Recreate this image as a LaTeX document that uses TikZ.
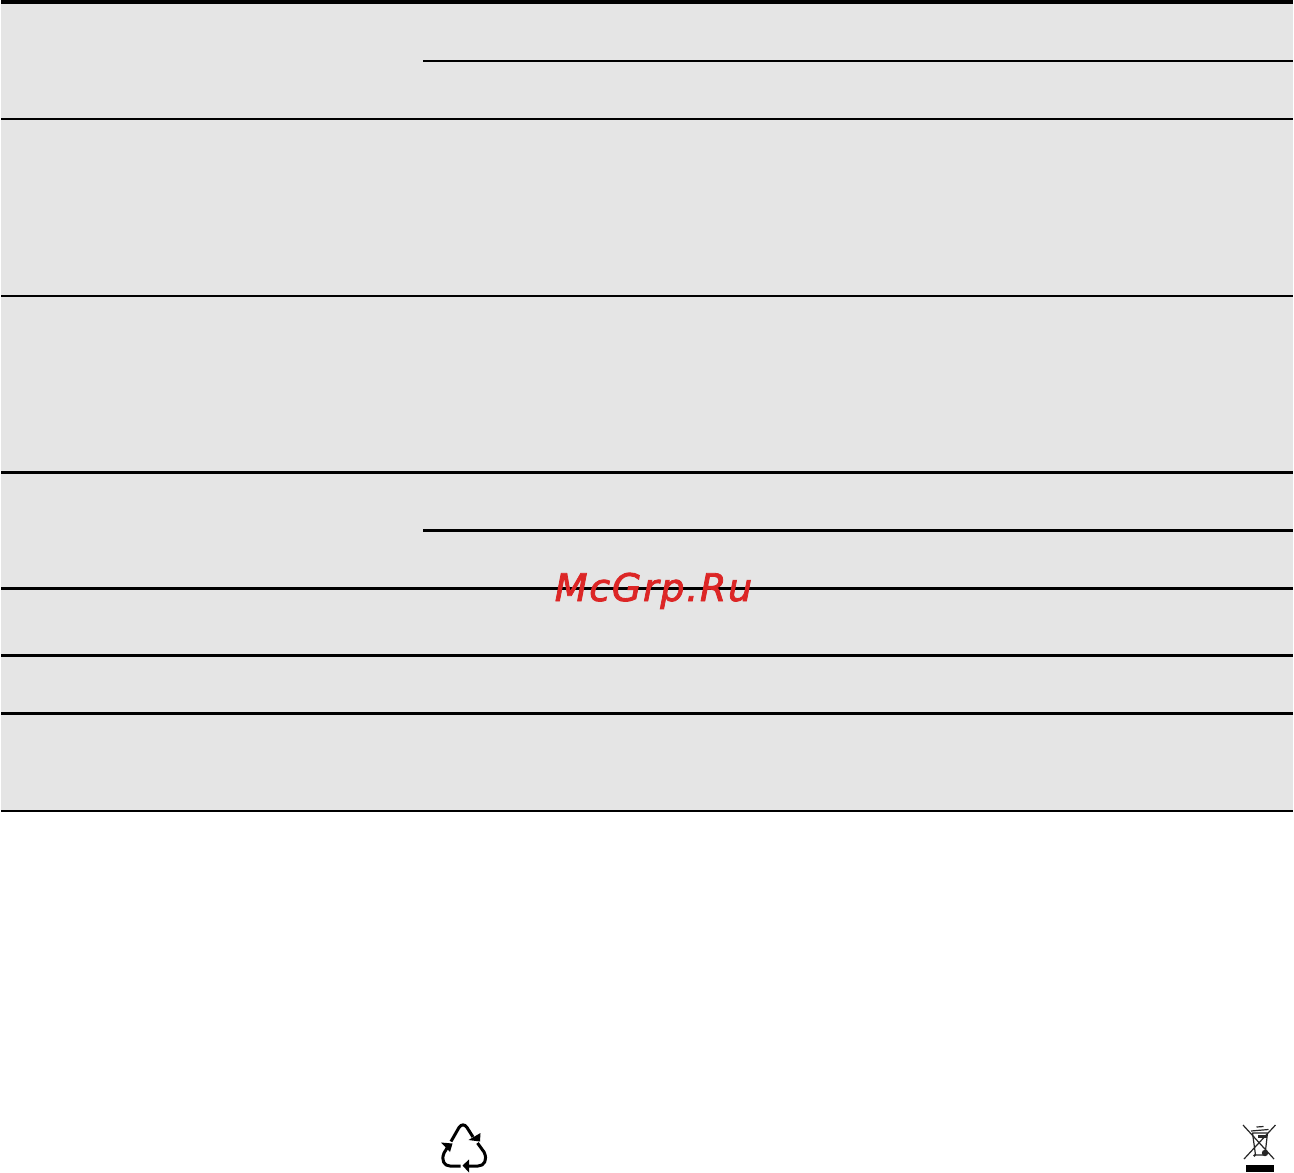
\documentclass[tikz,border=0pt]{standalone}
\usepackage{fontspec}
\setmainfont{DejaVu Sans}
\definecolor{panel}{HTML}{E5E5E5}
\definecolor{mark}{HTML}{DC2626}
\tikzset{
  rulethin/.style={draw=black,line width=2pt},
  rulemid/.style={draw=black,line width=2.7pt},
  rulethick/.style={draw=black,line width=4pt},
  icon/.style={draw=black,line width=3pt,line join=round},
  iconfine/.style={draw=black!85,line width=1.2pt,line join=round},
  tip/.style={fill=black,draw=none},
  watermark/.style={text=mark,font=\fontsize{38pt}{38pt}\selectfont\itshape,inner sep=0pt,anchor=base}
}
\begin{document}
\begin{tikzpicture}[x=1pt,y=-1pt]
\useasboundingbox (0,0) rectangle (1294,1173);
\fill[white] (0,0) rectangle (1294,1173);
\fill[panel] (1,0) rectangle (1293,811);
% table rules
\draw[rulethick] (1,2) -- (1293,2);
\draw[rulethin] (423,61) -- (1293,61);
\draw[rulethin] (1,119) -- (1293,119);
\draw[rulemid] (1,296) -- (1293,296);
\draw[rulemid] (1,472.5) -- (1293,472.5);
\draw[rulemid] (423,530.5) -- (1293,530.5);
\draw[rulemid] (1,588.5) -- (1293,588.5);
\draw[rulemid] (1,655.5) -- (1293,655.5);
\draw[rulemid] (1,713.5) -- (1293,713.5);
\draw[rulethin] (1,811) -- (1293,811);
% watermark
\node[watermark] (wm) at (653.5,601) {\addfontfeature{LetterSpace=4.5,FakeBold=2.2}McGrp.Ru};
% recycling symbol
\draw[icon] (451,1141.5) -- (459,1127.5) .. controls (461,1124) and (465,1124) .. (467,1127.5) -- (473,1137);
\fill[tip] (480.5,1133) -- (468.5,1140) -- (480,1141.5) -- cycle;
\draw[icon] (477.5,1143) -- (484,1152) .. controls (488,1160) and (484,1166) .. (478,1166) -- (468,1166);
\fill[tip] (469,1159.5) -- (462.5,1165.5) -- (469,1172.5) -- cycle;
\draw[icon] (460.5,1166) -- (450,1166) .. controls (444,1166) and (441,1160) .. (444,1153) -- (449,1145);
\fill[tip] (441,1142.5) -- (452.5,1143.5) -- (450,1152) -- cycle;
% crossed-out bin symbol
\draw[iconfine] (1243,1125) -- (1274,1159);
\draw[iconfine] (1275.5,1125) -- (1244,1159);
\draw[iconfine] (1252.5,1133) -- (1267.5,1133) -- (1265,1155) -- (1255.5,1155) -- cycle;
\draw[iconfine] (1251,1131) -- (1268.5,1129.5);
\draw[iconfine] (1256.5,1127) -- (1263.5,1126.5);
\fill[black!85] (1258,1135) rectangle (1267,1137.5);
\fill[black!85] (1265,1153) circle (3.2pt);
\fill[black!85] (1254.5,1155.5) circle (1.3pt);
\fill[black] (1246,1165) rectangle (1274,1172);
\end{tikzpicture}
\end{document}
